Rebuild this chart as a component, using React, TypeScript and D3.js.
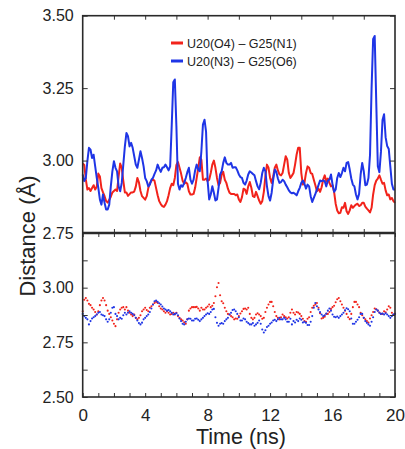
import { useEffect, useRef } from 'react';
import * as d3 from 'd3';

// sampling interval of the trajectories (ns)
const STEP = 0.1;

const seriesNames = ['U20(O4) – G25(N1)', 'U20(N3) – G25(O6)'];
const seriesColors = ['#f2231b', '#1f35e6'];

// top panel: distances, t = 0 .. 20 ns every 0.1 ns
const topRed = [
  2.99, 2.985, 2.935, 2.9, 2.905, 2.895, 2.905, 2.915, 2.9, 2.91,
  2.955, 2.945, 2.905, 2.89, 2.877, 2.86, 2.855, 2.865, 2.875, 2.89,
  2.895, 2.9, 2.895, 2.945, 2.99, 2.975, 2.93, 2.89, 2.89, 2.878,
  2.884, 2.89, 2.89, 2.893, 2.91, 2.94, 2.925, 2.895, 2.877, 2.871,
  2.865, 2.877, 2.905, 2.922, 2.93, 2.935, 2.93, 2.905, 2.88, 2.86,
  2.85, 2.843, 2.84, 2.848, 2.86, 2.88, 2.905, 2.92, 2.915, 2.94,
  2.985, 2.995, 2.975, 2.955, 2.93, 2.92, 2.925, 2.92, 2.894, 2.883,
  2.883, 2.885, 2.906, 2.94, 2.975, 3.011, 3.003, 2.934, 2.934, 2.938,
  2.929, 2.934, 2.957, 2.986, 3.0, 2.975, 2.94, 2.915, 2.923, 2.952,
  2.961, 2.934, 2.923, 2.903, 2.889, 2.885, 2.885, 2.885, 2.88, 2.883,
  2.866, 2.857, 2.874, 2.903, 2.9, 2.885, 2.911, 2.926, 2.906, 2.877,
  2.874, 2.892, 2.877, 2.862, 2.851, 2.86, 2.892, 2.946, 2.986, 2.975,
  2.94, 2.923, 2.946, 2.975, 2.986, 2.966, 2.952, 2.949, 2.957, 2.986,
  3.015, 3.003, 2.957, 2.94, 2.948, 2.957, 2.986, 3.021, 3.044, 3.044,
  2.957, 2.917, 2.923, 2.957, 2.98, 2.975, 2.957, 2.954, 2.934, 2.915,
  2.894, 2.903, 2.892, 2.908, 2.934, 2.949, 2.929, 2.938, 2.923, 2.911,
  2.915, 2.892, 2.851, 2.828, 2.818, 2.82, 2.839, 2.837, 2.854, 2.825,
  2.816, 2.828, 2.846, 2.837, 2.843, 2.848, 2.851, 2.843, 2.846, 2.854,
  2.854, 2.841, 2.834, 2.828, 2.821, 2.837, 2.883, 2.915, 2.931, 2.938,
  2.949, 2.934, 2.92, 2.923, 2.897, 2.88, 2.883, 2.866, 2.871, 2.86,
  2.854,
];

const topBlue = [
  2.952, 2.929, 2.94, 2.998, 3.044, 3.038, 3.009, 3.02, 2.98, 2.94,
  2.906, 2.866, 2.848, 2.883, 2.854, 2.831, 2.831, 2.848, 2.911, 2.963,
  2.998, 2.975, 2.963, 2.911, 2.894, 2.923, 2.986, 3.049, 3.095, 3.084,
  3.049, 3.061, 3.044, 3.015, 2.986, 2.975, 3.003, 3.032, 3.009, 2.98,
  2.94, 2.929, 2.911, 2.917, 2.934, 2.94, 2.954, 2.966, 2.986, 2.972,
  2.961, 2.975, 2.977, 2.986, 2.977, 2.966, 2.98, 3.12, 3.27, 3.28,
  3.12, 2.92, 2.9, 2.915, 2.91, 2.923, 2.94, 2.96, 2.975, 2.934,
  2.92, 2.934, 2.966, 2.986, 2.969, 2.963, 3.032, 3.124, 3.141, 3.1,
  2.929, 2.866, 2.883, 2.911, 2.889, 2.862, 2.866, 2.906, 2.952, 2.963,
  2.992, 3.011, 2.992, 2.986, 2.986, 2.992, 2.975, 2.977, 2.977, 2.966,
  2.952, 2.943, 2.94, 2.923, 2.917, 2.931, 2.952, 2.963, 2.959, 2.954,
  2.949, 2.929, 2.911, 2.901, 2.923, 2.957, 2.975, 2.963, 2.911, 2.877,
  2.862, 2.889, 2.934, 2.969, 2.961, 2.938, 2.923, 2.926, 2.934, 2.929,
  2.917, 2.908, 2.897, 2.89, 2.887, 2.889, 2.885, 2.88, 2.894, 2.906,
  2.923, 2.931, 2.92, 2.903, 2.917, 2.911, 2.877, 2.857, 2.871, 2.885,
  2.9, 2.915, 2.931, 2.929, 2.931, 2.929, 2.911, 2.931, 2.934, 2.952,
  2.917, 2.892, 2.9, 2.94, 2.957, 2.943, 2.957, 2.975, 2.963, 2.992,
  2.995, 2.969, 2.938, 2.917, 2.911, 2.883, 2.866, 2.885, 2.952, 2.992,
  2.963, 2.915, 2.917, 2.94, 3.02, 3.25, 3.42, 3.43, 3.2, 2.98,
  2.96, 3.03, 3.14, 3.16, 3.08, 3.05, 3.04, 2.98, 2.92, 2.9,
  2.9,
];

// bottom panel: scattered points, same time grid
const botRed = [
  2.892, 2.945, 2.953, 2.941, 2.926, 2.92, 2.908, 2.9, 2.889, 2.877,
  2.892, 2.92, 2.941, 2.953, 2.941, 2.92, 2.895, 2.88, 2.865, 2.85,
  2.835, 2.824, 2.855, 2.885, 2.9, 2.908, 2.911, 2.9, 2.911, 2.895,
  2.885, 2.877, 2.87, 2.877, 2.862, 2.855, 2.862, 2.874, 2.892, 2.9,
  2.908, 2.898, 2.892, 2.908, 2.915, 2.923, 2.93, 2.935, 2.93, 2.915,
  2.905, 2.9, 2.892, 2.885, 2.892, 2.885, 2.877, 2.88, 2.885, 2.877,
  2.885, 2.87, 2.862, 2.855, 2.85, 2.842, 2.835, 2.855, 2.895, 2.905,
  2.911, 2.911, 2.911, 2.912, 2.905, 2.895, 2.908, 2.9, 2.9, 2.908,
  2.914, 2.923, 2.911, 2.917, 2.93, 2.961, 3.002, 3.021, 2.965, 2.938,
  2.929, 2.908, 2.892, 2.88, 2.877, 2.87, 2.865, 2.855, 2.859, 2.858,
  2.87, 2.882, 2.892, 2.903, 2.905, 2.9, 2.908, 2.88, 2.862, 2.855,
  2.862, 2.877, 2.883, 2.877, 2.87, 2.858, 2.862, 2.889, 2.908, 2.923,
  2.935, 2.935, 2.915, 2.889, 2.87, 2.862, 2.855, 2.865, 2.877, 2.87,
  2.865, 2.859, 2.865, 2.885, 2.9, 2.885, 2.877, 2.889, 2.886, 2.88,
  2.87, 2.858, 2.847, 2.844, 2.858, 2.865, 2.889, 2.908, 2.917, 2.923,
  2.93, 2.908, 2.883, 2.859, 2.862, 2.867, 2.88, 2.88, 2.889, 2.903,
  2.911, 2.917, 2.933, 2.947, 2.953, 2.938, 2.923, 2.908, 2.895, 2.88,
  2.865, 2.856, 2.88, 2.911, 2.935, 2.935, 2.923, 2.911, 2.885, 2.874,
  2.862, 2.855, 2.847, 2.841, 2.859, 2.874, 2.889, 2.905, 2.901, 2.895,
  2.886, 2.88, 2.88, 2.892, 2.887, 2.9, 2.915, 2.908, 2.885, 2.877,
  2.88,
];

const botBlue = [
  2.88, 2.87, 2.862, 2.855, 2.832, 2.847, 2.859, 2.865, 2.87, 2.877,
  2.885, 2.889, 2.877, 2.874, 2.87, 2.855, 2.844, 2.855, 2.885, 2.908,
  2.911, 2.88, 2.87, 2.855, 2.862, 2.858, 2.874, 2.885, 2.877, 2.885,
  2.892, 2.885, 2.88, 2.874, 2.862, 2.85, 2.838, 2.832, 2.84, 2.855,
  2.862, 2.87, 2.877, 2.889, 2.905, 2.923, 2.938, 2.941, 2.935, 2.929,
  2.923, 2.914, 2.905, 2.9, 2.895, 2.898, 2.892, 2.885, 2.877, 2.88,
  2.883, 2.874, 2.859, 2.847, 2.835, 2.832, 2.844, 2.855, 2.859, 2.858,
  2.85, 2.85, 2.858, 2.859, 2.853, 2.847, 2.855, 2.862, 2.87, 2.877,
  2.883, 2.88, 2.889, 2.9, 2.903, 2.865, 2.839, 2.826, 2.835, 2.838,
  2.835, 2.847, 2.855, 2.862, 2.877, 2.885, 2.898, 2.9, 2.892, 2.88,
  2.865, 2.85, 2.85, 2.859, 2.855, 2.844, 2.838, 2.832, 2.832, 2.838,
  2.826, 2.832, 2.839, 2.85, 2.835, 2.809, 2.795, 2.805, 2.82, 2.826,
  2.835, 2.841, 2.85, 2.853, 2.847, 2.855, 2.862, 2.855, 2.855, 2.862,
  2.855, 2.844, 2.844, 2.858, 2.832, 2.847, 2.841, 2.853, 2.847, 2.859,
  2.853, 2.841, 2.844, 2.839, 2.829, 2.829, 2.844, 2.87, 2.908, 2.93,
  2.915, 2.9, 2.888, 2.877, 2.87, 2.874, 2.882, 2.895, 2.905, 2.895,
  2.877, 2.867, 2.865, 2.868, 2.862, 2.87, 2.877, 2.885, 2.897, 2.906,
  2.901, 2.892, 2.859, 2.835, 2.835, 2.844, 2.853, 2.865, 2.88, 2.88,
  2.862, 2.847, 2.839, 2.832, 2.826, 2.844, 2.865, 2.889, 2.9, 2.895,
  2.885, 2.88, 2.882, 2.877, 2.883, 2.877, 2.87, 2.862, 2.87, 2.877,
  2.88,
];

const xTickLabels = [0, 4, 8, 12, 16, 20];
const xMinorTicks = d3.range(0, 21);
const xTopTicks = [2, 4, 6, 8, 10, 12, 14, 16, 18];
const topYTicks = [2.75, 3.0, 3.25, 3.5];
const botYTicks = [2.5, 2.625, 2.75, 2.875, 3.0, 3.125];
const botYLabels = [2.5, 2.75, 3.0];

const FONT = "'Liberation Sans', Arial, sans-serif";

type G = d3.Selection<SVGGElement, unknown, null, undefined>;

function App() {
  const svgRef = useRef<SVGSVGElement>(null);

  useEffect(() => {
    if (!svgRef.current) return;
    const svg = d3.select(svgRef.current);
    svg.selectAll('*').remove();

    const left = 82.7;
    const right = 395;
    const top = 15.7;
    const split = 233;
    const bottom = 397;

    const x = d3.scaleLinear().domain([0, 20]).range([left, right]);
    const yTop = d3.scaleLinear().domain([2.75, 3.5]).range([split, top]);
    const yBot = d3.scaleLinear().domain([2.5, 3.25]).range([bottom, split]);
    const t = (i: number) => i * STEP;

    svg.append('rect').attr('width', 405).attr('height', 449).attr('fill', '#fff');

    // tick marks only (no labels)
    const ticksOnly = (g: G) => {
      g.selectAll('text').remove();
      g.selectAll('line').attr('stroke', '#333').attr('stroke-width', 1);
      g.select('.domain').remove();
    };
    // labels only (no tick lines)
    const labelsOnly = (g: G, size: number) => {
      g.selectAll('line').remove();
      g.select('.domain').remove();
      g.selectAll('text')
        .attr('font-family', FONT)
        .style('font-size', `${size}px`)
        .attr('fill', '#222');
    };

    // top panel
    const gTop = svg.append('g');
    [topRed, topBlue].forEach((vals, k) => {
      gTop.append('path')
        .datum(vals)
        .attr('fill', 'none')
        .attr('stroke', seriesColors[k])
        .attr('stroke-width', 2)
        .attr('stroke-linejoin', 'round')
        .attr('d', d3.line<number>().x((_, i) => x(t(i))).y(d => yTop(d)));
    });

    // bottom panel
    const gBot = svg.append('g');
    [botRed, botBlue].forEach((vals, k) => {
      gBot.selectAll(null)
        .data(vals)
        .join('circle')
        .attr('cx', (_, i) => x(t(i)))
        .attr('cy', d => yBot(d))
        .attr('r', 1.05)
        .attr('fill', seriesColors[k]);
    });

    // y ticks
    svg.append('g').attr('transform', `translate(${left},0)`)
      .call(d3.axisLeft(yTop).tickValues(topYTicks).tickSize(-5)).call(ticksOnly);
    svg.append('g').attr('transform', `translate(${right},0)`)
      .call(d3.axisRight(yTop).tickValues(topYTicks).tickSize(-5)).call(ticksOnly);
    svg.append('g').attr('transform', `translate(${left},0)`)
      .call(d3.axisLeft(yBot).tickValues(botYTicks).tickSize(-5)).call(ticksOnly);
    svg.append('g').attr('transform', `translate(${right},0)`)
      .call(d3.axisRight(yBot).tickValues(botYTicks).tickSize(-5)).call(ticksOnly);

    // y labels
    svg.append('g').attr('transform', `translate(${left},0)`)
      .call(d3.axisLeft(yTop).tickValues(topYTicks).tickSize(0).tickPadding(9).tickFormat(d3.format('.2f')))
      .call(g => labelsOnly(g, 16));
    svg.append('g').attr('transform', `translate(${left},0)`)
      .call(d3.axisLeft(yBot).tickValues(botYLabels).tickSize(0).tickPadding(9).tickFormat(d3.format('.2f')))
      .call(g => labelsOnly(g, 16));

    // x ticks
    svg.append('g').attr('transform', `translate(0,${top})`)
      .call(d3.axisTop(x).tickValues(xTopTicks).tickSize(-4)).call(ticksOnly);
    svg.append('g').attr('transform', `translate(0,${split})`)
      .call(d3.axisBottom(x).tickValues(xTopTicks).tickSize(-4)).call(ticksOnly);
    svg.append('g').attr('transform', `translate(0,${split})`)
      .call(d3.axisTop(x).tickValues(xMinorTicks).tickSize(-4)).call(ticksOnly);
    svg.append('g').attr('transform', `translate(0,${bottom})`)
      .call(d3.axisBottom(x).tickValues(xMinorTicks).tickSize(-4)).call(ticksOnly);

    // x labels
    svg.append('g').attr('transform', `translate(0,${bottom})`)
      .call(d3.axisBottom(x).tickValues(xTickLabels).tickSize(0).tickPadding(11.5).tickFormat(d3.format('d')))
      .call(g => labelsOnly(g, 17));

    // frames
    const frame = svg.append('g').attr('fill', 'none').attr('stroke', '#2a2a2a');
    frame.append('rect')
      .attr('x', left).attr('y', top)
      .attr('width', right - left).attr('height', bottom - top)
      .attr('stroke-width', 1.6);
    frame.append('line')
      .attr('x1', left).attr('x2', right)
      .attr('y1', split).attr('y2', split)
      .attr('stroke-width', 2.6);

    // legend
    const legend = svg.append('g');
    seriesNames.forEach((name, k) => {
      const ly = 43 + k * 18;
      legend.append('line')
        .attr('x1', 171).attr('x2', 183)
        .attr('y1', ly).attr('y2', ly)
        .attr('stroke', seriesColors[k])
        .attr('stroke-width', 3);
      legend.append('text')
        .attr('x', 187).attr('y', ly + 4.5)
        .attr('font-family', FONT)
        .style('font-size', '12.5px')
        .attr('fill', '#222')
        .text(name);
    });

    // axis titles
    svg.append('text')
      .attr('transform', 'translate(35,236) rotate(-90)')
      .attr('text-anchor', 'middle')
      .attr('font-family', FONT)
      .style('font-size', '22px')
      .attr('fill', '#222')
      .text('Distance (Å)');

    svg.append('text')
      .attr('x', 241).attr('y', 444)
      .attr('text-anchor', 'middle')
      .attr('font-family', FONT)
      .style('font-size', '21.5px')
      .attr('fill', '#222')
      .text('Time (ns)');
  }, []);

  return (
    <svg
      ref={svgRef}
      width={405}
      height={449}
      style={{ position: 'absolute', left: 0, top: 0 }}
    />
  );
}

export default App;
